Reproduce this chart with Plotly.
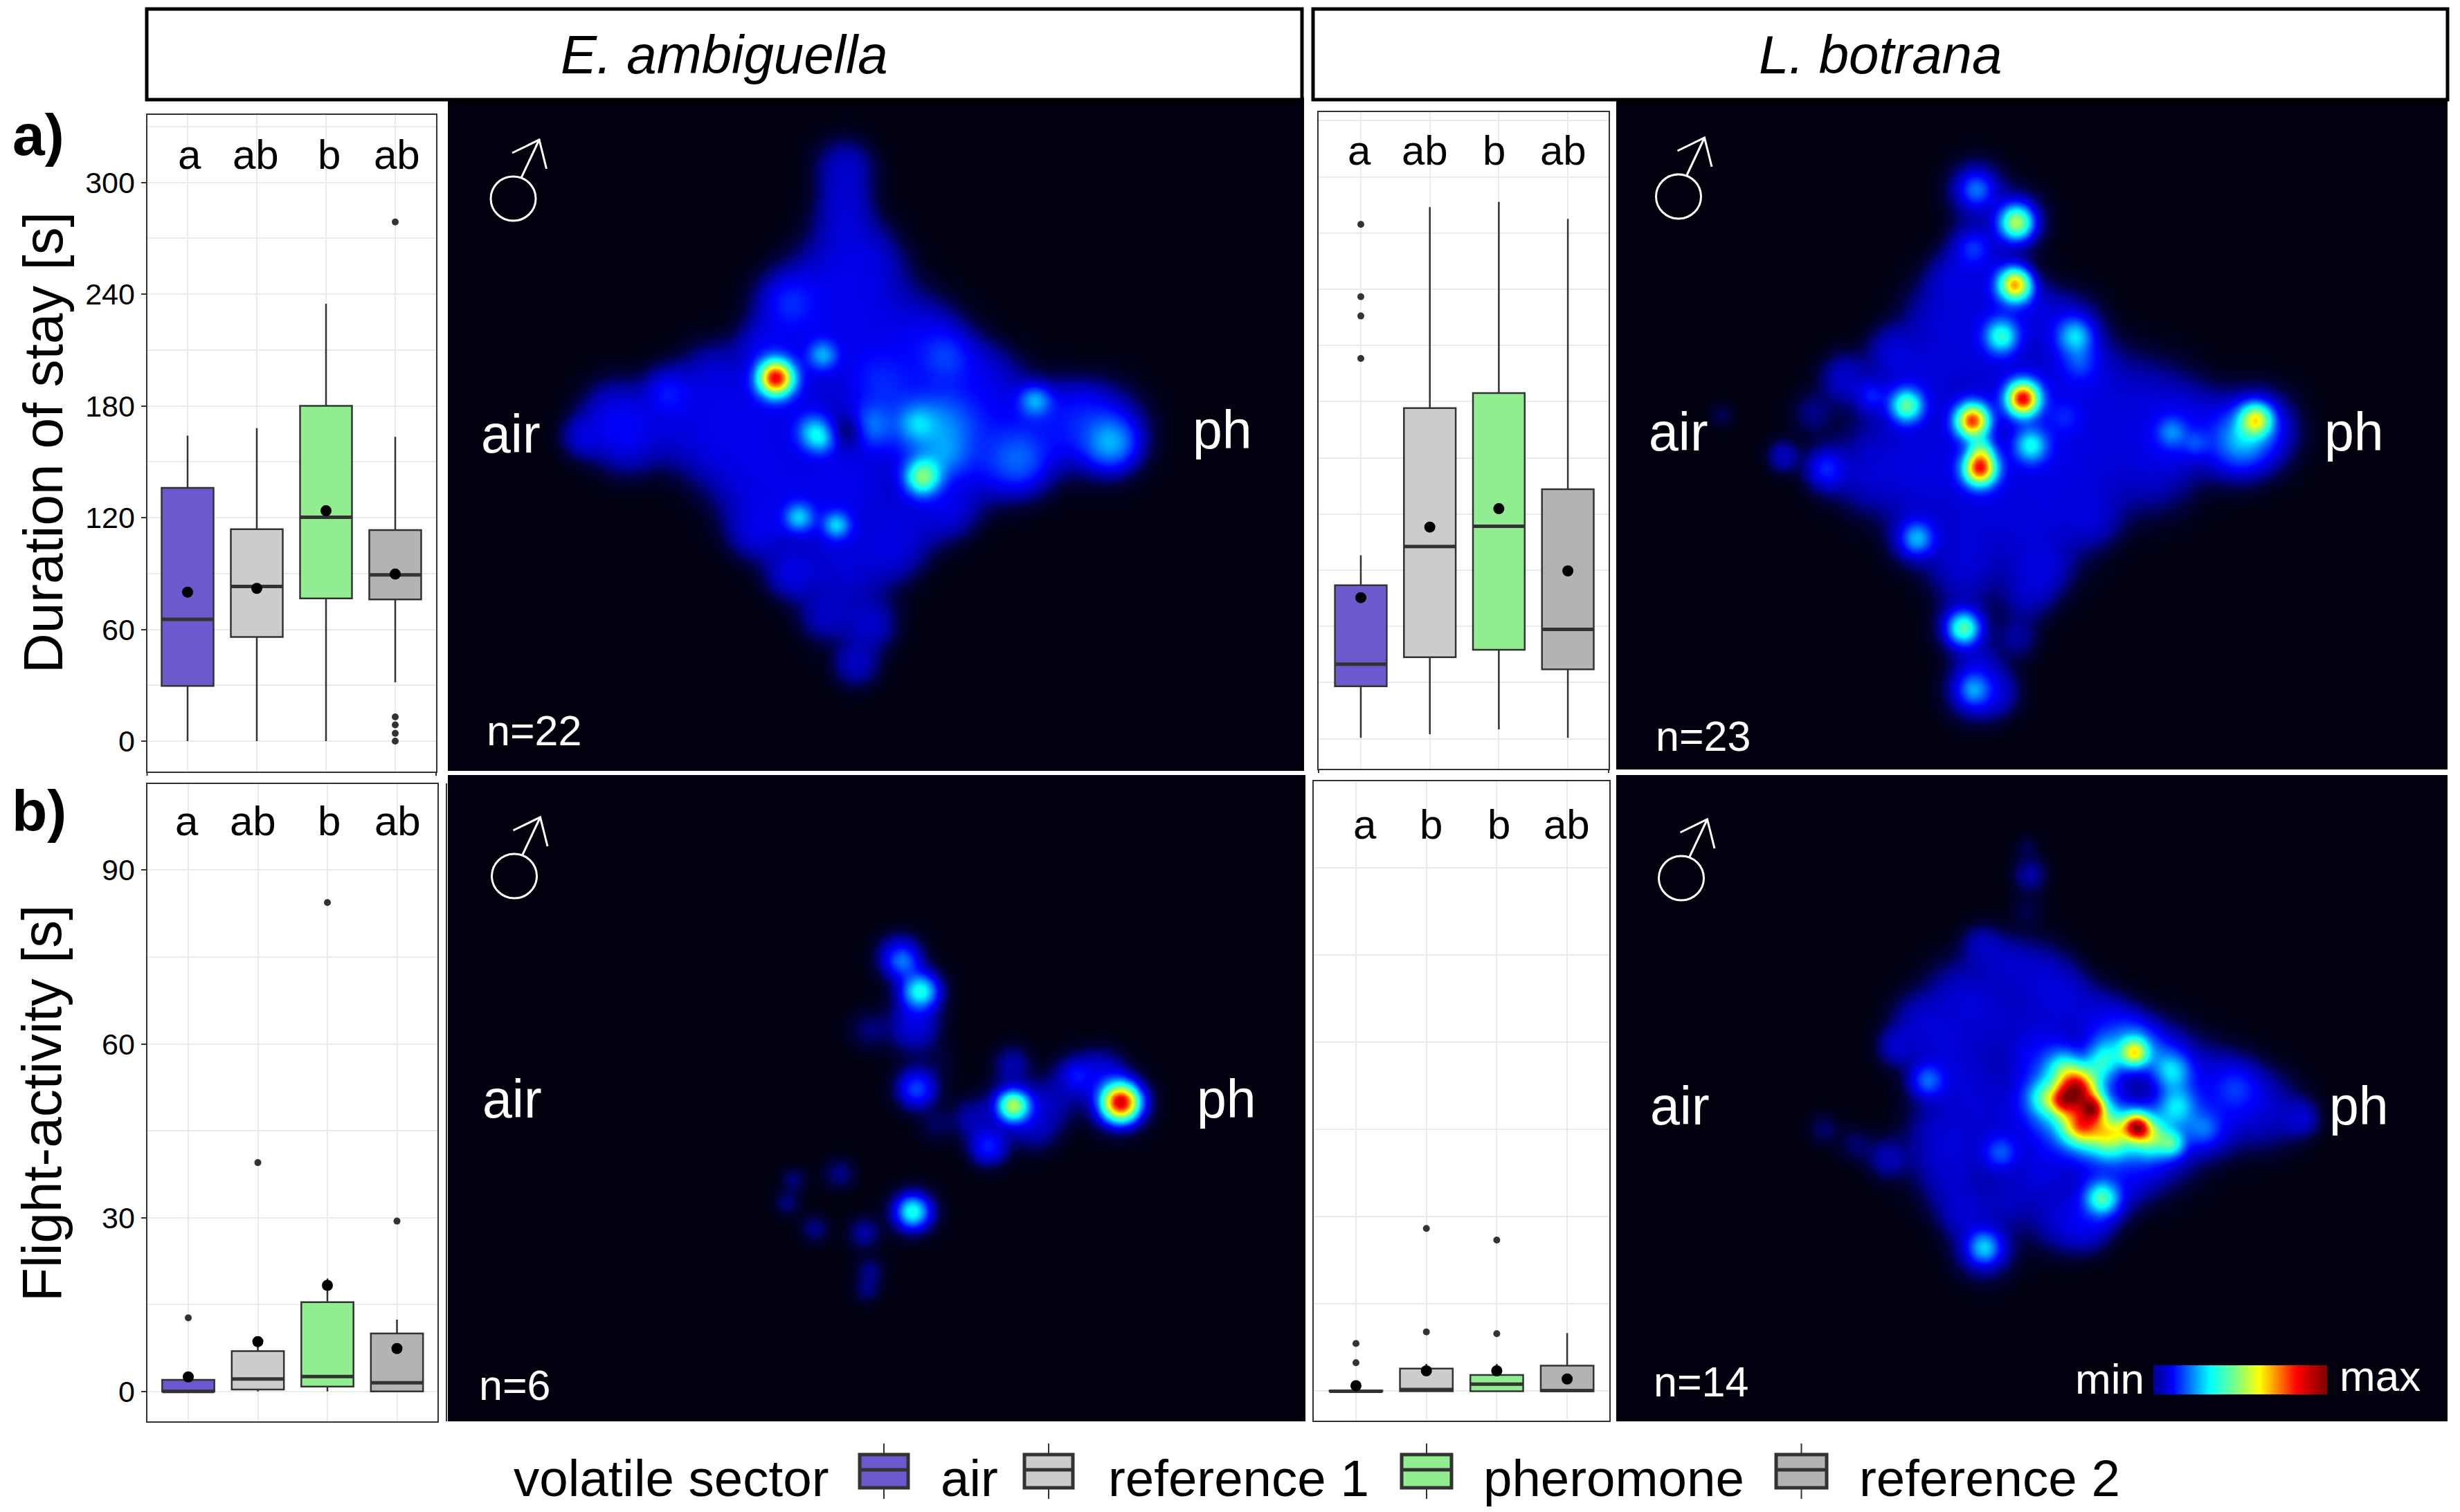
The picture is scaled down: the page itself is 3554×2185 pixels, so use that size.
import numpy as np
import plotly.graph_objects as go

W, H = 3554, 2185
sectors = ["air", "reference 1", "pheromone", "reference 2"]
colors = ["#6a5acd", "#cccccc", "#90ee90", "#b3b3b3"]
positions = [1, 2, 3, 4]

# --- box statistics: [air, ref1, pheromone, ref2]
a_low = [0, 0, 0, 31.6]
a_q1 = [29.6, 55.9, 76.6, 76.1]
a_med = [65.4, 83, 120.2, 89.3]
a_q3 = [136, 113.8, 180, 113.3]
a_up = [164, 168, 234.8, 163.4]
a_mean = [80, 82, 123.7, 89.7]
a_out = [[], [], [], [278.7, 13, 8.7, 4.2, 0]]
a_letters = ["a", "ab", "b", "ab"]

c_low = [0.5, 2.4, 5, 0.5]
c_q1 = [28, 43.5, 47.5, 37]
c_med = [39.8, 102.6, 113.4, 58.4]
c_q3 = [81.9, 176.5, 184.5, 133.2]
c_up = [97.9, 283.8, 286.6, 277.6]
c_mean = [75.3, 113, 122.8, 89.6]
c_out = [[274.6, 236, 225.7, 203], [], [], []]
c_letters = ["a", "ab", "b", "ab"]

b_low = [0, 0, 0, 0]
b_q1 = [0, 0.33, 0.83, 0]
b_med = [0, 2.15, 2.56, 1.5]
b_q3 = [2, 6.95, 15.4, 10]
b_up = [2, 8.3, 19.5, 12.4]
b_mean = [2.5, 8.6, 18.3, 7.4]
b_out = [[12.7], [39.5], [84.4], [29.4]]
b_letters = ["a", "ab", "b", "ab"]

d_low = [0, 0, 0, 0]
d_q1 = [0, 0, 0, 0]
d_med = [0, 0.3, 1.2, 0.1]
d_q3 = [0.1, 3.9, 2.8, 4.4]
d_up = [0.1, 4.7, 4.7, 10]
d_mean = [0.95, 3.5, 3.5, 2.1]
d_out = [[8.2, 4.9], [28, 10.2], [26, 9.9], []]
d_letters = ["a", "b", "b", "ab"]

# --- density maps: (x, y, level, spread), in arena units
a_body = [(715,165,.17,38),(715,240,.13,35),(715,300,.14,40),(755,375,.16,45),(700,400,.15,55),(615,475,.2,45),
 (680,480,.15,55),(760,480,.16,60),(570,580,.2,35),(640,560,.17,60),(760,570,.17,70),(860,560,.2,50),(900,610,.2,45),
 (960,650,.19,45),(395,685,.2,35),(480,650,.15,45),(300,735,.2,45),(240,785,.18,28),(320,790,.2,45),(400,770,.13,45),
 (480,720,.16,60),(560,720,.17,60),(480,800,.17,55),(560,820,.17,60),(650,700,.18,60),(560,900,.17,60),(640,900,.19,60),
 (730,880,.2,60),(850,770,.25,60),(900,760,.27,50),(780,660,.23,50),(760,760,.28,30),(1000,740,.2,60),(1100,760,.2,50),
 (1180,770,.22,55),(1200,800,.28,35),(1140,740,.2,40),(1030,840,.28,45),(950,850,.2,50),(900,830,.25,30),(900,950,.2,40),
 (820,980,.18,50),(700,1000,.18,60),(560,1000,.2,40),(620,1100,.2,35),(720,1100,.16,55),(800,1050,.16,40),(680,1200,.14,35),
 (760,1220,.17,35),(735,1310,.16,30)]
a_hot = [(590,650,.72,22),(675,597,.17,18),(660,775,.2,22),(675,795,.1,18),(845,755,.1,22),(855,880,.38,22),(632,973,.2,18),
 (700,990,.2,16),(1060,700,.18,20),(725,770,-.1,20),(900,600,.05,30),(615,475,.04,30),(395,685,.03,25),(1190,800,.04,30)]

c_body = [(665,215,.2,38),(740,285,.2,38),(660,350,.2,35),(620,420,.16,35),(690,430,.16,50),(600,500,.14,50),(700,520,.17,50),
 (780,500,.15,40),(840,540,.2,45),(860,620,.2,35),(510,590,.17,35),(600,600,.15,60),(420,650,.18,33),(470,690,.17,25),
 (540,680,.16,50),(700,640,.16,70),(800,680,.16,60),(900,680,.16,60),(1000,720,.17,60),(1080,760,.18,50),(1150,800,.25,45),
 (1190,770,.25,50),(1030,780,.2,40),(1000,850,.16,60),(900,830,.16,70),(800,800,.17,70),(620,800,.15,70),(520,800,.12,70),
 (360,730,.08,30),(190,735,.045,18),(305,830,.15,22),(385,860,.2,30),(460,870,.14,50),(560,900,.15,60),(680,900,.17,60),
 (800,920,.15,70),(880,970,.15,40),(550,1020,.18,35),(640,1020,.14,55),(760,1020,.15,70),(640,1100,.14,45),(790,1090,.16,35),
 (760,1150,.13,35),(640,1225,.2,35),(740,1250,.1,30),(670,1310,.12,30),(660,1370,.2,38),(700,1375,.17,32)]
c_hot = [(665,213,.12,20),(740,290,.42,21),(660,350,.06,18),(738,433,.6,21),(712,553,.28,21),(850,553,.2,22),(858,615,.06,18),
 (752,697,.72,21),(658,748,.68,21),(672,858,.68,21),(675,815,.2,16),(767,805,.25,21),(535,713,.35,20),(470,690,.05,15),
 (555,1020,.18,20),(642,1228,.32,20),(660,1370,.15,20),(1187,745,.42,20),(1160,790,.07,28),(1030,775,.12,18),(1075,800,.07,16),
 (830,740,.05,20),(385,860,.05,20)]

b_body = [(815,430,.22,30),(850,510,.25,30),(840,590,.2,32),(760,600,.07,28),(850,650,.02,40),(890,680,.02,25),(845,740,.2,28),
 (880,825,.05,25),(945,810,.12,28),(975,875,.2,26),(1018,680,.12,25),(1020,780,.2,35),(1060,830,.13,32),(1135,710,.18,30),
 (1090,770,.12,35),(1180,700,.18,30),(1210,770,.2,38),(705,940,.08,22),(622,955,.07,18),(610,1010,.07,18),(660,1070,.08,20),
 (750,1080,.11,22),(760,1170,.08,20),(755,1215,.07,18),(838,1030,.2,30)]
b_hot = [(820,440,.1,18),(852,510,.2,20),(1020,780,.42,19),(1215,772,.75,24),(838,1030,.26,20),(1135,710,.05,16),
 (845,740,.08,22),(975,875,.05,22)]

d_body = [(765,235,.11,24),(760,170,.04,18),(760,320,.04,25),(675,400,.13,28),(720,440,.13,35),(780,470,.16,45),(830,520,.17,40),
 (640,520,.16,50),(560,580,.14,40),(515,640,.15,26),(600,640,.15,50),(700,580,.15,60),(800,600,.12,50),(900,580,.2,40),
 (950,620,.25,35),(575,720,.2,28),(640,720,.13,50),(680,800,.15,60),(380,835,.06,22),(440,870,.06,25),(500,905,.13,28),
 (600,850,.15,50),(620,940,.16,50),(710,890,.2,30),(780,940,.17,40),(640,1030,.16,35),(720,1000,.14,40),(820,1040,.17,45),
 (870,1060,.2,35),(900,1000,.22,35),(680,1115,.2,40),(1000,700,.2,60),(1100,730,.17,50),(1150,740,.2,40),(1200,790,.18,50),
 (1270,810,.17,25),(1100,820,.2,45),(1000,860,.2,60),(900,900,.18,60),(950,940,.13,40),(800,780,.2,60),(780,670,.2,40),(975,740,.12,50)]
d_hot = [(855,740,.62,26),(885,785,.42,16),(825,770,.3,18),(860,828,.42,24),(915,848,.38,28),(965,828,.58,17),
 (960,655,.42,18),(1030,700,.18,24),(1040,780,.18,24),(1030,870,.22,16),(990,855,.25,22),(900,680,.2,22),(830,690,.2,24),
 (790,760,.18,22),(900,998,.28,20),(680,1115,.2,20),(575,720,.1,18),(710,890,.08,18),(1090,835,.1,22),(1150,740,.05,25),
 (850,790,.22,55),(990,840,.12,45),(1000,660,.08,40),(905,650,.1,25),(975,740,-.12,35)]

colorbar_levels = [.1,.14,.18,.22,.26,.3,.34,.38,.42,.46,.5,.54,.58,.62,.66,.7,.74,.78,.82,.86,.9,.94,.98]

jet = [[0, "#00000f"], [.04, "#000038"], [.1, "#0000a0"], [.18, "#0000ff"], [.38, "#00ffff"], [.52, "#80ff80"],
       [.64, "#ffff00"], [.84, "#ff0000"], [1, "#7a0000"]]
DARK = "#333333"
GRID = "#ebebeb"
FONT = "Liberation Sans"
BODY_CAP = 0.17
BODY_SHRINK = 0.85


def px(x):
    return x / W


def py(y):
    return 1 - y / H


def density(body, hot, xs, ys):
    X, Y = np.meshgrid(xs, ys)

    def g(x, y, a, s):
        return a * np.exp(-((X - x) ** 2 / (2 * s ** 2) + (Y - y) ** 2 / (2 * (1.28 * s) ** 2)))
    fill = sum(g(x, y, a, s * BODY_SHRINK) for x, y, a, s in body)
    base = BODY_CAP * (1 - np.exp(-fill / (0.7 * BODY_CAP)))
    extra = sum(g(x, y, a - 0.19, s * BODY_SHRINK) for x, y, a, s in body if a > 0.19)
    top = sum(g(*b) for b in hot)
    return np.clip(base + extra + top, 0, 1).round(3)


fig = go.Figure()
layout = dict(width=W, height=H, margin=dict(l=0, r=0, t=0, b=0), paper_bgcolor="white", plot_bgcolor="white",
              showlegend=False, autosize=False)
shapes, anns = [], []


def ann(text, x, y, size, color="black", xanchor="center", angle=0):
    anns.append(dict(text=text, x=px(x), y=py(y), xref="paper", yref="paper", showarrow=False, xanchor=xanchor,
                     yanchor="middle", textangle=angle, font=dict(family=FONT, size=size, color=color)))


def box_panel(n, box, zero_y, per_unit, step, labels, stats, letters, letter_xy, cat0, cat_step):
    left, right, top, bottom = box
    low, q1, med, q3, up, mean, out = stats
    ax = "" if n == 1 else str(n)
    xr = [1 + (left - cat0) / cat_step, 1 + (right - cat0) / cat_step]
    yr = [(zero_y - bottom) / per_unit, (zero_y - top) / per_unit]
    layout["xaxis" + ax] = dict(domain=[px(left), px(right)], range=xr, tickvals=positions, showticklabels=False, ticks="",
                                showgrid=True, gridcolor=GRID, gridwidth=2, zeroline=False, showline=True, mirror=True,
                                linecolor=DARK, linewidth=2, anchor="y" + ax)
    layout["yaxis" + ax] = dict(domain=[py(bottom), py(top)], range=yr, dtick=step, tick0=0, showticklabels=labels,
                                ticks="outside" if labels else "", ticklen=7, tickwidth=2, tickcolor=DARK,
                                tickfont=dict(family=FONT, size=43, color="black"), showgrid=True, gridcolor=GRID, gridwidth=2,
                                minor=dict(dtick=step / 2, tick0=0, showgrid=True, gridcolor=GRID, gridwidth=2, ticks=""),
                                zeroline=False, showline=True, mirror=True, linecolor=DARK, linewidth=2, anchor="x" + ax)
    for i, p in enumerate(positions):
        fig.add_trace(go.Box(x=[p], q1=[q1[i]], median=[med[i]], q3=[q3[i]], lowerfence=[low[i]], upperfence=[up[i]],
                             width=0.75, whiskerwidth=0, fillcolor=colors[i], line=dict(color=DARK, width=2.5),
                             boxpoints=False, name=sectors[i], xaxis="x" + ax, yaxis="y" + ax, hoverinfo="skip"))
    mx, my = [], []
    for p, m in zip(positions, med):
        mx += [p - 0.375, p + 0.375, None]
        my += [m, m, None]
    fig.add_trace(go.Scatter(x=mx, y=my, mode="lines", line=dict(color=DARK, width=5), xaxis="x" + ax, yaxis="y" + ax,
                             hoverinfo="skip"))
    ox = [p for p, o in zip(positions, out) for _ in o]
    oy = [v for o in out for v in o]
    fig.add_trace(go.Scatter(x=ox, y=oy, mode="markers", marker=dict(color=DARK, size=10), xaxis="x" + ax, yaxis="y" + ax,
                             hoverinfo="skip"))
    fig.add_trace(go.Scatter(x=positions, y=mean, mode="markers", marker=dict(color="black", size=16), xaxis="x" + ax,
                             yaxis="y" + ax, hoverinfo="skip"))
    xs_l, y_l = letter_xy
    for t, x in zip(letters, xs_l):
        ann(t, x, y_l, 60)


def heat_panel(n, box, extent, body, hot):
    left, right, top, bottom = box
    x0, x1, y0, y1 = extent
    ax = str(n)
    xs = np.arange(x0, x1 + 8, 8)
    ys = np.arange(y0, y1 + 8, 8)
    z = density(body, hot, xs, ys)
    layout["xaxis" + ax] = dict(domain=[px(left), px(right)], range=[x0, x1], visible=False, anchor="y" + ax)
    layout["yaxis" + ax] = dict(domain=[py(bottom), py(top)], range=[y1, y0], visible=False, anchor="x" + ax)
    fig.add_trace(go.Heatmap(x=xs.tolist(), y=ys.tolist(), z=z.tolist(), colorscale=jet, zmin=0, zmax=1, zsmooth="best",
                             showscale=False, xaxis="x" + ax, yaxis="y" + ax, hoverinfo="skip"))


def male(cx, cy):
    line = dict(color="white", width=3)
    shapes.append(dict(type="circle", xref="paper", yref="paper", x0=px(cx - 32.5), x1=px(cx + 32.5), y0=py(cy + 32),
                       y1=py(cy - 32), line=line))
    for seq in ([(12, -31), (37.5, -85)], [(-1.5, -66), (37.5, -85), (48, -43)]):
        d = "M " + " L ".join(f"{px(cx + a):.5f},{py(cy + b):.5f}" for a, b in seq)
        shapes.append(dict(type="path", xref="paper", yref="paper", path=d, line=line))


def seg(x0, y0, x1, y1, color=DARK, width=2):
    shapes.append(dict(type="line", xref="paper", yref="paper", x0=px(x0), x1=px(x1), y0=py(y0), y1=py(y1),
                       line=dict(color=color, width=width)))


box_panel(1, (212.5, 630, 166, 1115), 1071, 161.5 / 60, 60, True, (a_low, a_q1, a_med, a_q3, a_up, a_mean, a_out),
          a_letters, ((274, 369, 475, 573), 224), 271, 100)
box_panel(2, (1905, 2324, 162, 1111), 1067.5, 81.2 / 30, 60, False, (c_low, c_q1, c_med, c_q3, c_up, c_mean, c_out),
          c_letters, ((1964, 2058, 2158, 2258), 218), 1966, 99.7)
box_panel(3, (212.5, 632, 1132.5, 2053.5), 2010.7, 8.37, 30, True, (b_low, b_q1, b_med, b_q3, b_up, b_mean, b_out),
          b_letters, ((270, 365, 475, 574), 1186), 272, 100.5)
box_panel(4, (1898, 2325, 1128.5, 2053), 2010.4, 8.4, 30, False, (d_low, d_q1, d_med, d_q3, d_up, d_mean, d_out),
          d_letters, ((1972, 2067, 2165, 2263), 1191), 1959, 101.7)

heat_panel(5, (647, 1884, 141, 1114), (-4, 1548, 2, 1558), a_body, a_hot)
heat_panel(6, (2335, 3536, 142, 1112), (-6, 1545, 3, 1555), c_body, c_hot)
heat_panel(7, (647, 1886, 1120, 2054), (-4, 1550, 0, 1525), b_body, b_hot)
heat_panel(8, (2335, 3536, 1120, 2054), (-6, 1545, 0, 1525), d_body, d_hot)

# colour key
layout["xaxis9"] = dict(domain=[px(3111), px(3362)], range=[-0.5, len(colorbar_levels) - 0.5], visible=False, anchor="y9")
layout["yaxis9"] = dict(domain=[py(2015), py(1973)], range=[-0.5, 0.5], visible=False, anchor="x9")
fig.add_trace(go.Heatmap(z=[colorbar_levels], colorscale=jet, zmin=0, zmax=1, zsmooth="best", showscale=False,
                         xaxis="x9", yaxis="y9", hoverinfo="skip"))

# header strips
for l, r, t in ((212, 1881, "<i>E. ambiguella</i>"), (1897, 3536, "<i>L. botrana</i>")):
    shapes.append(dict(type="rect", xref="paper", yref="paper", x0=px(l), x1=px(r), y0=py(144), y1=py(13),
                       line=dict(color="black", width=5), fillcolor="white"))
    ann(t, (l + r) / 2, 79, 78)

# small axis tails and the stray frame line beside the lower-left map
for x in (212.5, 630):
    seg(x, 1115, x, 1121)
for x in (1905, 2324):
    seg(x, 1111, x, 1117)
seg(645, 1132, 645, 2054)

ann("<b>a)</b>", 55, 195, 84)
ann("<b>b)</b>", 57, 1172, 84)
ann("Duration of stay [s]", 63, 640, 80, angle=-90)
ann("Flight-activity [s]", 60, 1595, 80, angle=-90)

for cx, cy in ((741.5, 287), (2425, 284), (743, 1266), (2429, 1269)):
    male(cx, cy)
for t, x, y in (("air", 738, 627), ("ph", 1766, 621), ("air", 2425, 624), ("ph", 3401, 624),
                ("air", 740, 1588), ("ph", 1772, 1588), ("air", 2427, 1598), ("ph", 3408, 1598)):
    ann(t, x, y, 77, "white")
for t, x, y in (("n=22", 771, 1056), ("n=23", 2460, 1064), ("n=6", 743, 2002), ("n=14", 2457, 1997)):
    ann(t, x, y, 61, "white")
ann("min", 3048, 1992, 62, "white")
ann("max", 3438, 1988, 62, "white")

# legend
ann("volatile sector", 740, 2136, 74.5, xanchor="left")
key_x = [(1242, 1312), (1480, 1550), (2025, 2097), (2566, 2639)]
text_x = [1357, 1599, 2141, 2684]
for (l, r), tx, col, name in zip(key_x, text_x, colors, sectors):
    m = (l + r) / 2
    seg(m, 2086, m, 2166)
    shapes.append(dict(type="rect", xref="paper", yref="paper", x0=px(l), x1=px(r), y0=py(2150), y1=py(2102),
                       fillcolor=col, line=dict(color=DARK, width=5)))
    seg(l, 2124, r, 2124, width=5)
    ann(name, tx, 2136, 74.5, xanchor="left")

layout["shapes"] = shapes
layout["annotations"] = anns
fig.update_layout(**layout)
fig.write_html("out.html", config={"displayModeBar": False},
               post_script="document.body.style.margin='0';document.body.style.overflow='hidden';")
